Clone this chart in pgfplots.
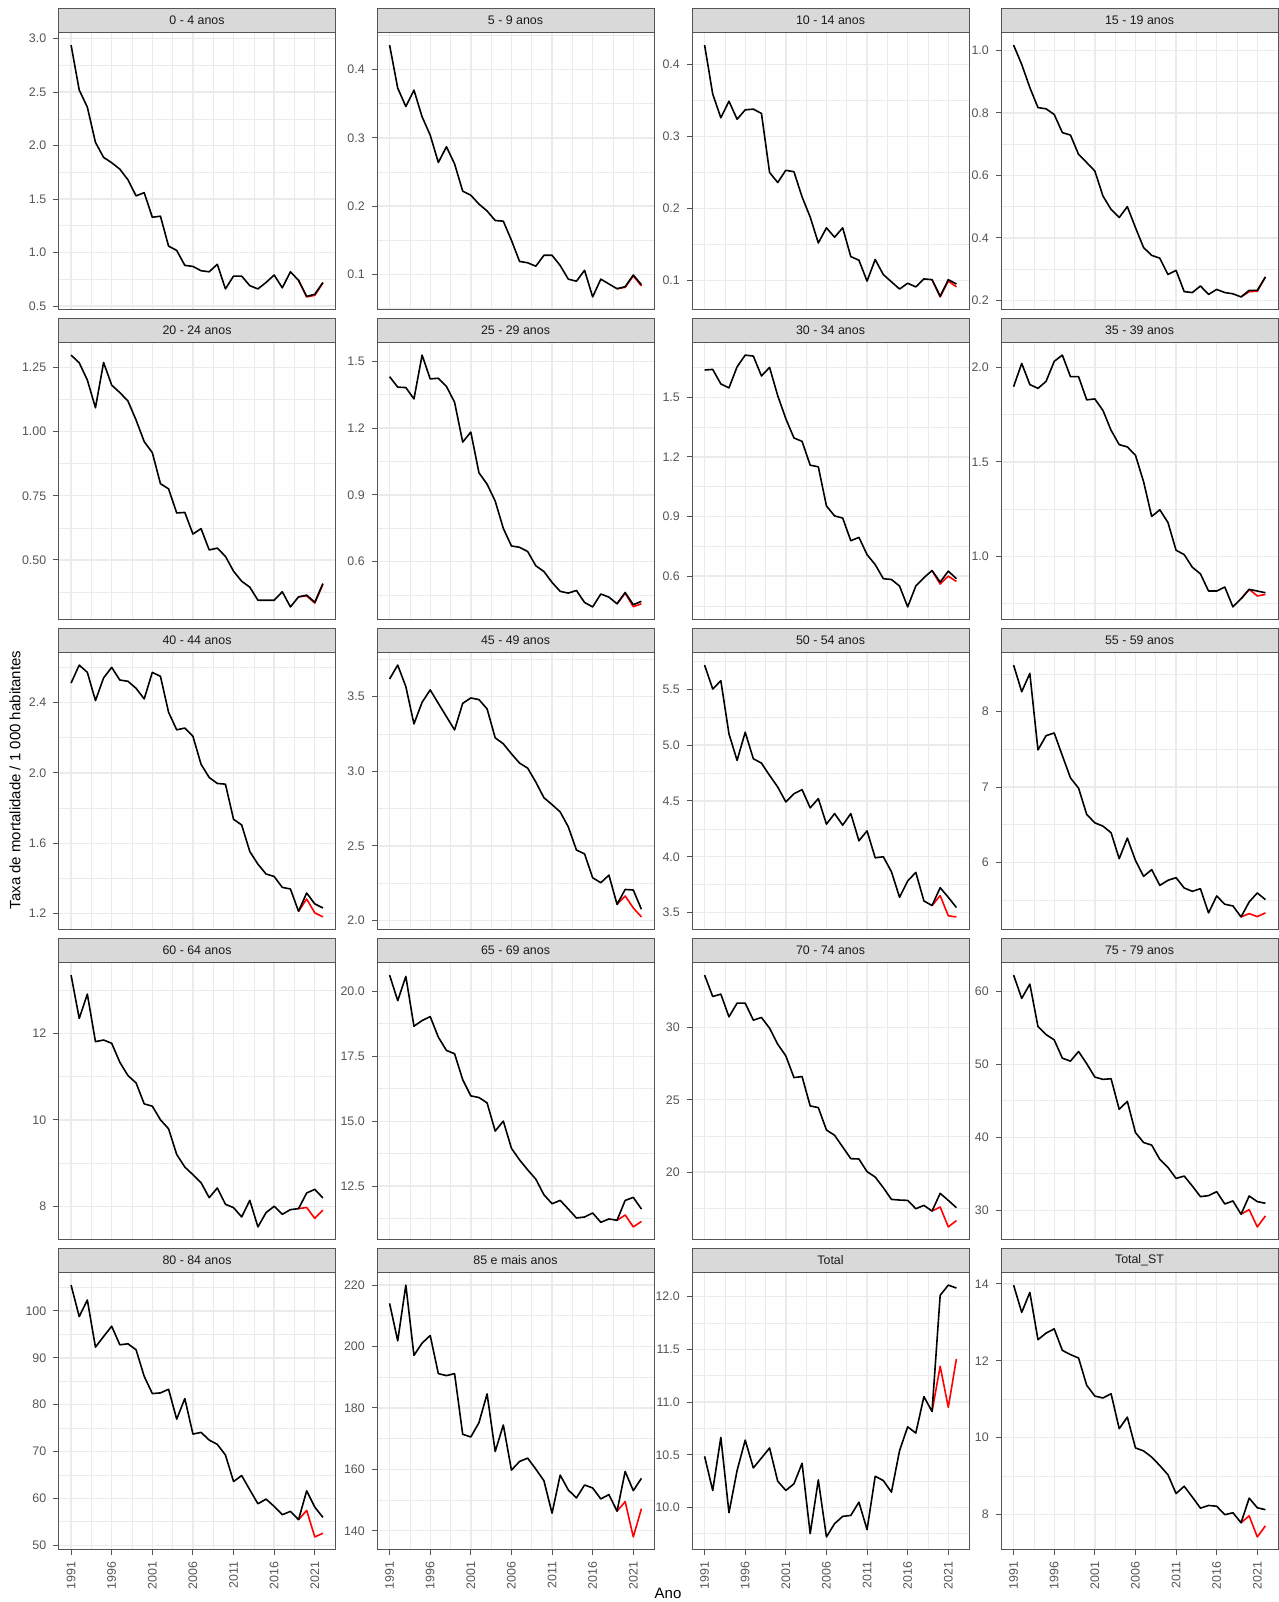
\documentclass[border=0pt]{standalone}
\usepackage{fontspec}
\setmainfont{Liberation Sans}
\usepackage{pgfplots}
\usepackage{pgfplotstable}
\pgfplotsset{compat=1.18}
\definecolor{grey10}{HTML}{1A1A1A}
\definecolor{grey20}{HTML}{555555}
\definecolor{grey30}{HTML}{555555}
\definecolor{grey85}{HTML}{D9D9D9}
\definecolor{grey92}{HTML}{EBEBEB}

% taxa de mortalidade por 1000 habitantes, serie observada (preto)
\pgfplotstableread{
ano a0 a5 a10 a15 a20 a25 a30 a35 a40 a45 a50 a55 a60 a65 a70 a75 a80 a85 tot tst
1991 2.94 0.436 0.427 1.017 1.298 1.431 1.637 1.898 2.511 3.618 5.717 8.618 13.344 20.626 33.626 62.23 105.52 214.06 10.485 13.97
1992 2.52 0.373 0.359 0.955 1.268 1.384 1.640 2.021 2.613 3.711 5.503 8.265 12.345 19.642 32.148 59.04 98.80 201.87 10.161 13.26
1993 2.36 0.346 0.326 0.881 1.201 1.382 1.567 1.909 2.572 3.567 5.577 8.508 12.906 20.575 32.309 61.00 102.34 220.00 10.665 13.78
1994 2.03 0.370 0.349 0.817 1.093 1.331 1.547 1.889 2.411 3.317 5.101 7.492 11.808 18.658 30.739 55.18 92.28 197.12 9.950 12.55
1995 1.89 0.331 0.324 0.813 1.269 1.528 1.653 1.926 2.540 3.462 4.863 7.682 11.846 18.876 31.686 54.08 94.55 201.11 10.350 12.72
1996 1.84 0.304 0.337 0.795 1.181 1.421 1.712 2.032 2.600 3.545 5.116 7.717 11.770 19.029 31.686 53.35 96.74 203.59 10.639 12.83
1997 1.78 0.264 0.338 0.737 1.152 1.424 1.707 2.065 2.528 3.455 4.878 7.417 11.332 18.237 30.508 50.85 92.78 191.18 10.375 12.27
1998 1.68 0.287 0.332 0.729 1.119 1.387 1.607 1.951 2.521 3.366 4.839 7.121 11.025 17.726 30.693 50.44 92.99 190.53 10.469 12.16
1999 1.53 0.262 0.250 0.667 1.045 1.316 1.650 1.951 2.481 3.277 4.729 6.985 10.856 17.598 29.954 51.76 91.71 191.18 10.564 12.07
2000 1.56 0.222 0.236 0.641 0.961 1.137 1.508 1.828 2.421 3.455 4.625 6.636 10.372 16.601 28.845 50.09 86.05 171.42 10.249 11.36
2001 1.33 0.216 0.253 0.614 0.918 1.182 1.392 1.833 2.572 3.491 4.491 6.525 10.319 15.976 28.037 48.26 82.37 170.56 10.161 11.08
2002 1.34 0.203 0.251 0.534 0.797 0.999 1.295 1.772 2.549 3.480 4.565 6.481 10.004 15.912 26.536 47.94 82.51 175.20 10.224 11.03
2003 1.06 0.193 0.216 0.491 0.777 0.948 1.278 1.667 2.345 3.418 4.601 6.393 9.797 15.707 26.605 48.03 83.29 184.59 10.419 11.14
2004 1.02 0.179 0.188 0.465 0.683 0.872 1.158 1.591 2.245 3.224 4.438 6.049 9.205 14.621 24.573 43.84 76.91 165.81 9.751 10.23
2005 0.88 0.178 0.152 0.500 0.685 0.749 1.150 1.579 2.255 3.184 4.521 6.322 8.914 15.005 24.457 44.93 81.30 174.45 10.261 10.53
2006 0.87 0.150 0.173 0.433 0.601 0.670 0.953 1.535 2.208 3.117 4.292 6.026 8.737 13.957 22.910 40.66 73.73 159.77 9.720 9.73
2007 0.83 0.119 0.160 0.369 0.622 0.664 0.903 1.395 2.049 3.055 4.387 5.815 8.553 13.510 22.540 39.29 74.08 162.57 9.846 9.65
2008 0.82 0.117 0.173 0.344 0.539 0.645 0.892 1.211 1.974 3.021 4.283 5.903 8.207 13.126 21.732 38.93 72.45 163.65 9.915 9.49
2009 0.89 0.112 0.133 0.335 0.546 0.581 0.778 1.246 1.940 2.928 4.387 5.695 8.430 12.769 20.924 36.97 71.53 160.09 9.924 9.27
2010 0.66 0.128 0.128 0.283 0.514 0.555 0.795 1.179 1.936 2.823 4.143 5.762 8.054 12.168 20.900 35.88 69.26 156.31 10.050 9.03
2011 0.78 0.128 0.099 0.296 0.456 0.506 0.708 1.032 1.736 2.777 4.232 5.797 7.977 11.823 20.023 34.37 63.60 145.73 9.789 8.54
2012 0.78 0.113 0.129 0.228 0.417 0.466 0.658 1.009 1.704 2.728 3.991 5.660 7.762 11.951 19.654 34.69 64.87 158.15 10.296 8.73
2013 0.69 0.093 0.108 0.225 0.394 0.458 0.587 0.942 1.553 2.628 4.000 5.616 8.146 11.619 18.915 33.33 61.83 153.29 10.255 8.45
2014 0.66 0.090 0.098 0.246 0.343 0.470 0.583 0.907 1.481 2.473 3.866 5.651 7.532 11.274 18.106 31.87 58.85 150.70 10.145 8.16
2015 0.72 0.106 0.088 0.219 0.343 0.416 0.550 0.816 1.425 2.447 3.637 5.329 7.862 11.312 18.060 32.01 59.84 154.91 10.539 8.23
2016 0.79 0.067 0.096 0.235 0.343 0.396 0.445 0.816 1.411 2.287 3.783 5.554 8.008 11.466 18.037 32.55 58.29 153.94 10.765 8.21
2017 0.67 0.093 0.091 0.225 0.376 0.454 0.550 0.837 1.349 2.254 3.860 5.444 7.823 11.108 17.460 30.87 56.52 150.38 10.706 7.99
2018 0.82 0.086 0.102 0.221 0.317 0.440 0.592 0.732 1.340 2.305 3.604 5.422 7.931 11.236 17.691 31.28 57.22 151.78 11.052 8.04
2019 0.74 0.079 0.101 0.211 0.356 0.410 0.628 0.775 1.213 2.109 3.563 5.276 7.954 11.185 17.298 29.46 55.45 146.38 10.910 7.78
2020 0.59 0.082 0.078 0.232 0.363 0.461 0.570 0.825 1.317 2.209 3.723 5.475 8.315 11.951 18.522 31.96 61.61 159.33 12.013 8.42
2021 0.61 0.099 0.101 0.232 0.335 0.406 0.625 0.816 1.255 2.205 3.637 5.594 8.399 12.066 18.037 31.19 58.14 153.07 12.110 8.17
2022 0.72 0.085 0.095 0.275 0.408 0.421 0.587 0.807 1.232 2.076 3.545 5.506 8.200 11.619 17.529 30.96 55.95 157.07 12.082 8.12
}\bdata

% serie alternativa 2019-2022 (vermelho)
\pgfplotstableread{
ano a0 a5 a10 a15 a20 a25 a30 a35 a40 a45 a50 a55 a60 a65 a70 a75 a80 a85 tot tst
2019 0.74 0.079 0.101 0.211 0.356 0.410 0.628 0.775 1.213 2.109 3.563 5.276 7.954 11.185 17.298 29.46 55.45 146.38 10.910 7.78
2020 0.585 0.081 0.077 0.228 0.360 0.458 0.560 0.825 1.283 2.165 3.652 5.320 7.980 11.390 17.580 30.09 57.43 149.50 11.340 7.96
2021 0.600 0.098 0.099 0.229 0.332 0.397 0.600 0.790 1.204 2.085 3.471 5.280 7.730 10.930 16.200 27.72 51.77 138.00 10.950 7.41
2022 0.715 0.083 0.091 0.275 0.405 0.410 0.573 0.798 1.181 2.025 3.461 5.330 7.920 11.140 16.640 29.23 52.55 147.20 11.410 7.70
}\rdata

\pgfplotsset{
  facet/.style={
    scale only axis, width=138.5pt, height=138.5pt, anchor=north west,
    enlarge x limits=0.05, enlarge y limits=0.05,
    axis line style={grey20, line width=0.5pt},
    grid=both,
    major grid style={grey92, line width=0.7pt},
    minor grid style={grey92, line width=0.35pt},
    xtick={1991,1996,...,2021}, minor xtick={1993.5,1998.5,...,2018.5},
    xticklabels={},
    xtick pos=left, ytick pos=left, tick align=outside,
    major tick length=2.6pt, minor tick length=0pt,
    xtick style={draw=none}, ytick style={draw=grey20, line width=0.5pt},
    ticklabel style={font=\fontsize{6.2}{7}\selectfont, text=grey30},
    every axis title/.style={at={(0.5,1)}, anchor=south, fill=grey85, draw=grey20,
      line width=0.5pt, minimum width=138.5pt, minimum height=11.7pt, inner sep=0pt,
      font=\fontsize{6.2}{7}\selectfont, text=grey10},
    every axis plot/.append style={line width=0.8pt, line join=round},
  },
  bottomrow/.style={
    xticklabels={1991,1996,2001,2006,2011,2016,2021},
    xtick style={draw=grey20, line width=0.5pt},
    xticklabel style={rotate=90, anchor=east},
  },
}

% [extra] {x} {y} {title} {column} {yticks} {labels} {minor}
\newcommand{\facet}[8][]{%
  \begin{axis}[facet, #1, at={(#2pt,-#3pt)}, title={#4}, ytick={#6}, yticklabels={#7}, minor ytick={#8}]
  \addplot[red] table[x=ano, y=#5] {\rdata};
  \addplot[black] table[x=ano, y=#5] {\bdata};
  \end{axis}}

\begin{document}
\begin{tikzpicture}
\useasboundingbox (0,0) rectangle (639.5pt,-801pt);

\facet{29.25}{16.25}{0 - 4 anos}{a0}{0.5,1,1.5,2,2.5,3}{0.5,1.0,1.5,2.0,2.5,3.0}{0.75,1.25,1.75,2.25,2.75}
\facet{188.5}{16.25}{5 - 9 anos}{a5}{0.1,0.2,0.3,0.4}{0.1,0.2,0.3,0.4}{0.05,0.15,0.25,0.35,0.45}
\facet{346}{16.25}{10 - 14 anos}{a10}{0.1,0.2,0.3,0.4}{0.1,0.2,0.3,0.4}{0.05,0.15,0.25,0.35,0.45}
\facet{500.5}{16.25}{15 - 19 anos}{a15}{0.2,0.4,0.6,0.8,1.0}{0.2,0.4,0.6,0.8,1.0}{0.3,0.5,0.7,0.9}

\facet{29.25}{171.25}{20 - 24 anos}{a20}{0.5,0.75,1,1.25}{0.50,0.75,1.00,1.25}{0.375,0.625,0.875,1.125}
\facet{188.5}{171.25}{25 - 29 anos}{a25}{0.6,0.9,1.2,1.5}{0.6,0.9,1.2,1.5}{0.45,0.75,1.05,1.35}
\facet{346}{171.25}{30 - 34 anos}{a30}{0.6,0.9,1.2,1.5}{0.6,0.9,1.2,1.5}{0.45,0.75,1.05,1.35,1.65}
\facet{500.5}{171.25}{35 - 39 anos}{a35}{1,1.5,2}{1.0,1.5,2.0}{0.75,1.25,1.75}

\facet{29.25}{326.25}{40 - 44 anos}{a40}{1.2,1.6,2,2.4}{1.2,1.6,2.0,2.4}{1.4,1.8,2.2,2.6}
\facet{188.5}{326.25}{45 - 49 anos}{a45}{2,2.5,3,3.5}{2.0,2.5,3.0,3.5}{2.25,2.75,3.25,3.75}
\facet{346}{326.25}{50 - 54 anos}{a50}{3.5,4,4.5,5,5.5}{3.5,4.0,4.5,5.0,5.5}{3.75,4.25,4.75,5.25,5.75}
\facet{500.5}{326.25}{55 - 59 anos}{a55}{6,7,8}{6,7,8}{5.5,6.5,7.5,8.5}

\facet{29.25}{481.25}{60 - 64 anos}{a60}{8,10,12}{8,10,12}{7,9,11,13}
\facet{188.5}{481.25}{65 - 69 anos}{a65}{12.5,15,17.5,20}{12.5,15.0,17.5,20.0}{11.25,13.75,16.25,18.75}
\facet{346}{481.25}{70 - 74 anos}{a70}{20,25,30}{20,25,30}{17.5,22.5,27.5,32.5}
\facet{500.5}{481.25}{75 - 79 anos}{a75}{30,40,50,60}{30,40,50,60}{35,45,55}

\facet[bottomrow]{29.25}{636.25}{80 - 84 anos}{a80}{50,60,70,80,90,100}{50,60,70,80,90,100}{55,65,75,85,95,105}
\facet[bottomrow]{188.5}{636.25}{85 e mais anos}{a85}{140,160,180,200,220}{140,160,180,200,220}{150,170,190,210}
\facet[bottomrow]{346}{636.25}{Total}{tot}{10,10.5,11,11.5,12}{10.0,10.5,11.0,11.5,12.0}{9.75,10.25,10.75,11.25,11.75}
\facet[bottomrow]{500.5}{636.25}{Total\_ST}{tst}{8,10,12,14}{8,10,12,14}{9,11,13}

\node[rotate=90, font=\fontsize{7.5}{9}\selectfont] at (7.5pt,-390pt) {Taxa de mortalidade / 1 000 habitantes};
\node[font=\fontsize{7.5}{9}\selectfont] at (334pt,-796.5pt) {Ano};
\end{tikzpicture}
\end{document}
